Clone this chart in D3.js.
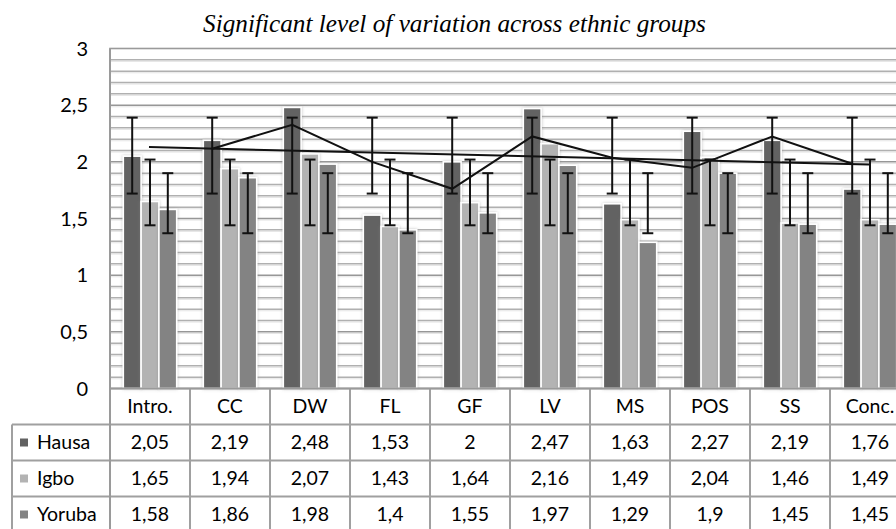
<!DOCTYPE html>
<html><head><meta charset="utf-8">
<script src="https://cdn.jsdelivr.net/npm/d3@7"></script>
<style>body{margin:0;background:#fff;overflow:hidden}</style>
</head><body>
<svg id="c" width="896" height="529"></svg>
<script>
const categories = ["Intro.","CC","DW","FL","GF","LV","MS","POS","SS","Conc."];
const seriesNames = ["Hausa","Igbo","Yoruba"];
const hausa  = [2.05,2.19,2.48,1.53,2,2.47,1.63,2.27,2.19,1.76];
const igbo   = [1.65,1.94,2.07,1.43,1.64,2.16,1.49,2.04,1.46,1.49];
const yoruba = [1.58,1.86,1.98,1.4,1.55,1.97,1.29,1.9,1.45,1.45];
const errLow  = [1.72,1.44,1.37];
const errHigh = [2.39,2.02,1.90];
const lineValues = [null,2.115,2.327,2.0,1.762,2.224,2.036,1.947,2.224,1.983];
const trendValues = [2.13,1.976];
const yTicks = [0,0.5,1,1.5,2,2.5,3];
const seriesColors = ["#626262","#b3b3b3","#838383"];
const title = "Significant level of variation across ethnic groups";

(function(){
const seriesValues = [hausa, igbo, yoruba];
const svg = d3.select("#c");
const defs = svg.append("defs");
const f = defs.append("filter").attr("id","sh").attr("x","-30%").attr("y","-5%").attr("width","160%").attr("height","110%");
f.append("feDropShadow").attr("dx",0).attr("dy",0).attr("stdDeviation",1.6).attr("flood-color","#888").attr("flood-opacity",0.5);

const pL = 110, pR = 910, pT = 48.5, pB = 388.5;
const x = d3.scaleBand().domain(categories).range([pL,pR]).padding(0);
const x1 = d3.scaleBand().domain(seriesNames).range([13.3,66.7]).padding(0);
const y = d3.scaleLinear().domain([0,3]).range([pB,pT]);
const fmt = v => String(v).replace(".", ",");
const font = "Lato, 'Open Sans', sans-serif";

// gridlines
const grid = d3.range(1,30).map(i => i/10);
svg.append("g").selectAll("line").data(grid).join("line")
  .attr("x1",pL).attr("x2",pR).attr("y1",d=>y(d)+1.6).attr("y2",d=>y(d)+1.6)
  .attr("stroke","#e6e6e6").attr("stroke-width",1);
svg.append("g").selectAll("line").data(grid).join("line")
  .attr("x1",pL).attr("x2",pR).attr("y1",d=>y(d)).attr("y2",d=>y(d))
  .attr("stroke",(d,i)=> (i+1)%5===0 ? "#979797" : "#b0b0b0").attr("stroke-width",1.5);

// plot border
svg.append("rect").attr("x",pL).attr("y",pT).attr("width",pR-pL).attr("height",pB-pT)
  .attr("fill","none").attr("stroke","#9a9a9a").attr("stroke-width",1.6);

// bars
const bars = [];
categories.forEach((c,ci) => seriesNames.forEach((s,si) => bars.push({c,s,si,v:seriesValues[si][ci]})));
svg.append("g").selectAll("rect").data(bars).join("rect")
  .attr("x",d=>x(d.c)+x1(d.s)).attr("width",x1.bandwidth())
  .attr("y",d=>y(d.v)).attr("height",d=>y(0)-y(d.v))
  .attr("fill",d=>seriesColors[d.si]).attr("stroke","#fff").attr("stroke-width",1.6)
  .attr("filter","url(#sh)");

// error bars
const eg = svg.append("g").attr("stroke","#111").attr("stroke-width",2);
bars.forEach(d => {
  const cx = x(d.c)+x1(d.s)+x1.bandwidth()/2;
  eg.append("line").attr("x1",cx).attr("x2",cx).attr("y1",y(errHigh[d.si])).attr("y2",y(errLow[d.si]));
  [errHigh[d.si],errLow[d.si]].forEach(v => eg.append("line").attr("x1",cx-5.5).attr("x2",cx+5.5).attr("y1",y(v)).attr("y2",y(v)));
});

// zigzag line through Hausa positions
const lineData = categories.map((c,i)=>({c,v:lineValues[i]})).filter(d=>d.v!==null);
svg.append("path").datum(lineData)
  .attr("d", d3.line().x(d=>x(d.c)+x1("Hausa")+x1.bandwidth()/2).y(d=>y(d.v)))
  .attr("fill","none").attr("stroke","#111").attr("stroke-width",2);

// trend line
const tr = [{c:categories[0],v:trendValues[0]},{c:categories[categories.length-1],v:trendValues[1]}];
svg.append("path").datum(tr)
  .attr("d", d3.line().x(d=>x(d.c)+x.bandwidth()/2 - 1).y(d=>y(d.v)))
  .attr("fill","none").attr("stroke","#111").attr("stroke-width",2);

// y axis labels
svg.append("g").selectAll("text").data(yTicks).join("text")
  .attr("x",88).attr("y",d=>y(d)).attr("dy","0.35em").attr("text-anchor","end")
  .attr("font-family",font).attr("font-size",20).attr("fill","#000").text(d=>fmt(d));

// data table
const rowH = 36, tTop = pB, tLeft = 12, fs = 19.5;
const tg = svg.append("g");
const tl = "#a0a0a0";
[1,2,3].forEach(r => tg.append("line").attr("x1",tLeft).attr("x2",pR).attr("y1",tTop+r*rowH).attr("y2",tTop+r*rowH).attr("stroke",tl).attr("stroke-width",2));
tg.append("line").attr("x1",tLeft).attr("x2",tLeft).attr("y1",tTop+rowH).attr("y2",529).attr("stroke",tl).attr("stroke-width",2);
categories.forEach(c => tg.append("line").attr("x1",x(c)).attr("x2",x(c)).attr("y1",tTop).attr("y2",529).attr("stroke",tl).attr("stroke-width",2));
tg.append("line").attr("x1",pL).attr("x2",pL).attr("y1",pT).attr("y2",529).attr("stroke","#9a9a9a").attr("stroke-width",2);
tg.append("line").attr("x1",pL).attr("x2",pR).attr("y1",tTop).attr("y2",tTop).attr("stroke","#9a9a9a").attr("stroke-width",2);
tg.selectAll("text.h").data(categories).join("text").attr("class","h")
  .attr("x",d=>x(d)+x.bandwidth()/2).attr("y",tTop+rowH/2).attr("dy","0.35em").attr("text-anchor","middle")
  .attr("font-family",font).attr("font-size",fs).text(d=>d);
seriesNames.forEach((s,si) => {
  const cy = tTop+(si+1)*rowH+rowH/2;
  tg.append("rect").attr("x",20).attr("y",cy-4).attr("width",8).attr("height",8).attr("fill",seriesColors[si]);
  tg.append("text").attr("x",37).attr("y",cy).attr("dy","0.35em").attr("font-family",font).attr("font-size",fs).text(s);
  tg.selectAll("text.r"+si).data(categories).join("text").attr("class","r"+si)
    .attr("x",d=>x(d)+x.bandwidth()/2).attr("y",cy).attr("dy","0.35em").attr("text-anchor","middle")
    .attr("font-family",font).attr("font-size",fs).text((d,i)=>fmt(seriesValues[si][i]));
});

// title
const t = svg.append("text").attr("x",454.5).attr("y",32).attr("text-anchor","middle")
  .attr("font-family","'Liberation Serif', 'Times New Roman', serif").attr("font-style","italic")
  .attr("font-size",20).text(title);
const w = t.node().getComputedTextLength();
t.attr("font-size", 20*503/w);
})();
</script>
</body></html>
